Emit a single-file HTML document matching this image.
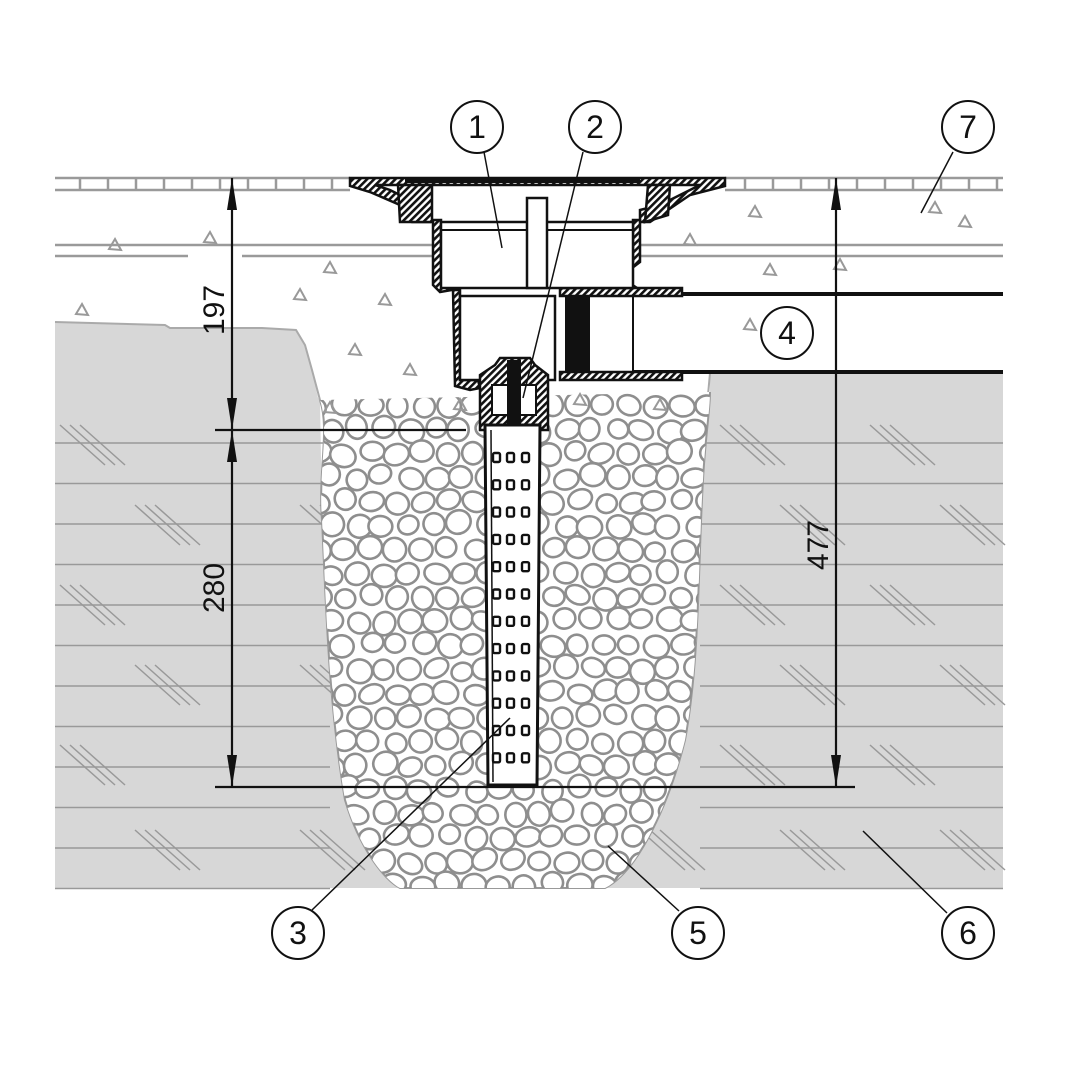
<!DOCTYPE html>
<html><head><meta charset="utf-8"><style>
html,body{margin:0;padding:0;background:#fff;}
svg{display:block;}
text{font-family:"Liberation Sans",sans-serif;}
</style></head><body>
<svg id="s" width="1080" height="1080" viewBox="0 0 1080 1080" xmlns="http://www.w3.org/2000/svg">
<defs>
<pattern id="hatch" width="5" height="5" patternUnits="userSpaceOnUse" patternTransform="rotate(45)">
<rect width="5" height="5" fill="#fff"/><rect width="2.6" height="5" fill="#111"/>
</pattern>
<clipPath id="pit"><path d="M320,400 C330,430 318,470 322,520 C326,600 328,700 345,800 C360,850 385,880 400,888 L605,888 C640,870 670,800 685,740 C700,660 698,560 703,480 C705,440 710,410 710,392 Z"/></clipPath>
<marker id="ar" viewBox="0 0 32 10" refX="32" refY="5" markerWidth="32" markerHeight="10" markerUnits="userSpaceOnUse" orient="auto-start-reverse"><path d="M0,0 L32,5 L0,10 Z" fill="#111"/></marker>
</defs>

<path d="M55,322 L165,325 L170,328 L262,328 L296,330 L305,345 L312,370 L318,398 L320,400 L322,520 C326,600 328,700 345,800 C360,850 385,880 400,888 L55,888 Z" fill="#d7d7d7"/>
<path d="M710,373 L1003,373 L1003,888 L605,888 C640,870 670,800 685,740 C700,660 698,560 703,480 C705,440 710,410 710,392 Z" fill="#d7d7d7"/>
<path d="M55,322 L165,325 L170,328 L262,328 L296,330 L305,345 L312,370 L320,400" fill="none" stroke="#aaa" stroke-width="2"/>
<path d="M710,373 L708,395" stroke="#aaa" stroke-width="2"/>
<g id="soil" stroke="#999" stroke-width="1.5"></g>

<path d="M320,400 C330,430 318,470 322,520 C326,600 328,700 345,800 C360,850 385,880 400,888 L605,888 C640,870 670,800 685,740 C700,660 698,560 703,480 C705,440 710,410 710,392" fill="#fff" stroke="#999" stroke-width="2"/>
<g id="peb" clip-path="url(#pit)" fill="#fff" stroke="#8e8e8e" stroke-width="2.6"></g>

<g stroke="#9a9a9a" stroke-width="2.5" fill="none">
<line x1="55" y1="178" x2="350" y2="178"/><line x1="55" y1="190" x2="350" y2="190"/>
<line x1="725" y1="178" x2="1003" y2="178"/><line x1="725" y1="190" x2="1003" y2="190"/>
<line x1="55" y1="245" x2="435" y2="245"/><line x1="55" y1="256" x2="188" y2="256"/><line x1="242" y1="256" x2="435" y2="256"/>
<line x1="640" y1="245" x2="1003" y2="245"/><line x1="640" y1="256" x2="1003" y2="256"/>
</g>
<g id="tiles" stroke="#9a9a9a" stroke-width="2.5"></g>
<g id="tri" fill="none" stroke="#999" stroke-width="2"></g>

<line x1="633" y1="294" x2="1003" y2="294" stroke="#111" stroke-width="4"/>
<line x1="633" y1="372" x2="1003" y2="372" stroke="#111" stroke-width="4"/>
<line x1="633" y1="296" x2="633" y2="372" stroke="#111" stroke-width="2"/>

<g stroke="#111" stroke-width="2.5" fill="url(#hatch)">
<path d="M350,178 L725,178 L725,186 L690,195 L665,212 L650,222 L640,222 L640,210 L660,205 L690,190 L700,185 L375,185 L390,190 L420,205 L430,210 L430,222 L412,222 L400,205 L370,192 L350,186 Z"/>
<path d="M398,185 L432,185 L432,222 L400,222 Z"/>
<path d="M648,185 L670,185 L668,215 L645,222 Z"/>
<path d="M433,220 L441,220 L441,282 L452,284 L452,290 L440,292 L433,285 Z"/>
<path d="M633,220 L640,220 L640,262 L632,268 L628,282 L637,288 L637,295 L630,292 L622,282 L624,268 L633,262 Z"/>
<path d="M453,290 L460,290 L460,380 L478,380 L480,388 L470,390 L455,386 Z"/>
<path d="M560,288 L682,288 L682,296 L560,296 Z"/>
<path d="M560,372 L682,372 L682,380 L560,380 Z"/>
</g>
<rect x="441" y="222" width="192" height="66" fill="#fff" stroke="#111" stroke-width="2.5"/>
<line x1="441" y1="230" x2="633" y2="230" stroke="#111" stroke-width="2"/>
<rect x="460" y="296" width="95" height="84" fill="#fff" stroke="#111" stroke-width="2.5"/>
<rect x="527" y="198" width="20" height="90" fill="#fff" stroke="#111" stroke-width="2.5"/>
<rect x="565" y="296" width="25" height="76" fill="#111"/>
<line x1="555" y1="296" x2="555" y2="380" stroke="#111" stroke-width="2"/>
<g stroke="#111" stroke-width="4"><line x1="405" y1="181" x2="640" y2="181"/></g>

<path d="M480,430 L480,375 L495,365 L500,358 L530,358 L535,365 L548,375 L548,430 Z" fill="url(#hatch)" stroke="#111" stroke-width="2.5"/>
<rect x="492" y="385" width="44" height="30" fill="#fff" stroke="#111" stroke-width="2"/>
<rect x="507" y="360" width="14" height="78" fill="#111"/>

<path d="M485,425 L488,785 L537,785 L540,425 Z" fill="#fff" stroke="#111" stroke-width="3"/>
<line x1="491" y1="430" x2="493" y2="782" stroke="#111" stroke-width="1.5"/>
<g id="holes" fill="#fff" stroke="#111" stroke-width="2.4"></g>

<g stroke="#111" stroke-width="2.2" fill="none">
<line x1="232" y1="178" x2="232" y2="430" marker-start="url(#ar)" marker-end="url(#ar)"/>
<line x1="232" y1="430" x2="232" y2="787" marker-start="url(#ar)" marker-end="url(#ar)"/>
<line x1="836" y1="178" x2="836" y2="787" marker-start="url(#ar)" marker-end="url(#ar)"/>
<line x1="215" y1="430" x2="466" y2="430"/>
<line x1="215" y1="787" x2="855" y2="787"/>
</g>
<g font-size="30" fill="#111">
<text transform="translate(224,310) rotate(-90)" text-anchor="middle">197</text>
<text transform="translate(224,588) rotate(-90)" text-anchor="middle">280</text>
<text transform="translate(828,545) rotate(-90)" text-anchor="middle">477</text>
</g>

<g stroke="#111" stroke-width="1.5">
<line x1="484" y1="152" x2="502" y2="248"/>
<line x1="583" y1="152" x2="523" y2="398"/>
<line x1="953" y1="152" x2="921" y2="213"/>
<line x1="312" y1="910" x2="510" y2="718"/>
<line x1="679" y1="911" x2="608" y2="846"/>
<line x1="947" y1="913" x2="863" y2="831"/>
</g>
<g fill="#fff" stroke="#111" stroke-width="2">
<circle cx="477" cy="127" r="26"/><circle cx="595" cy="127" r="26"/><circle cx="968" cy="127" r="26"/>
<circle cx="787" cy="333" r="26"/><circle cx="298" cy="933" r="26"/><circle cx="698" cy="933" r="26"/><circle cx="968" cy="933" r="26"/>
</g>
<g font-size="32" fill="#111" text-anchor="middle">
<text x="477" y="138">1</text><text x="595" y="138">2</text><text x="968" y="138">7</text>
<text x="787" y="344">4</text><text x="298" y="944">3</text><text x="698" y="944">5</text><text x="968" y="944">6</text>
</g>
</svg>
<script>
var NS="http://www.w3.org/2000/svg";
function el(p,t,a){var e=document.createElementNS(NS,t);for(var k in a)e.setAttribute(k,a[k]);document.getElementById(p).appendChild(e);return e;}
var seed=7;function r(){seed=(seed*16807)%2147483647;return seed/2147483647;}
for(var y=443;y<=889;y+=40.5){
 el("soil","line",{x1:55,y1:y,x2:330,y2:y});
 el("soil","line",{x1:700,y1:y,x2:1003,y2:y});
}
var hs=[[60,425],[135,505],[300,505],[60,585],[135,665],[300,665],[60,745],[300,830],[135,830],[720,425],[870,425],[780,505],[940,505],[720,585],[870,585],[780,665],[940,665],[720,745],[870,745],[780,830],[940,830],[640,830]];
hs.forEach(function(h){for(var i=0;i<3;i++)el("soil","line",{x1:h[0]+i*10,y1:h[1],x2:h[0]+i*10+45,y2:h[1]+40});});
for(var y=405;y<900;y+=24){for(var x=318;x<715;x+=26){
 var cx=x+(Math.floor((y-405)/24)%2)*13+(r()-.5)*6,cy=y+(r()-.5)*6;
 el("peb","ellipse",{cx:cx,cy:cy,rx:10+r()*3,ry:9+r()*3,transform:"rotate("+(r()*60-30)+" "+cx+" "+cy+")"});
}}
for(var x=80;x<350;x+=28)el("tiles","line",{x1:x,y1:178,x2:x,y2:190});
for(var x=745;x<1003;x+=28)el("tiles","line",{x1:x,y1:178,x2:x,y2:190});
var tr=[[82,310],[115,245],[210,238],[300,295],[385,300],[330,268],[355,350],[410,370],[460,405],[580,400],[660,405],[690,240],[755,212],[770,270],[840,265],[750,325],[935,208],[965,222],[330,408]];
tr.forEach(function(t){var x=t[0],y=t[1];el("tri","path",{d:"M"+x+","+(y-6)+" L"+(x+6)+","+(y+5)+" L"+(x-6)+","+(y+4)+" Z"});});
for(var y=457;y<780;y+=27.3){[496,510,525].forEach(function(x){el("holes","rect",{x:x-3,y:y-4,width:7,height:9,rx:1.5});});}
</script>
</body></html>
